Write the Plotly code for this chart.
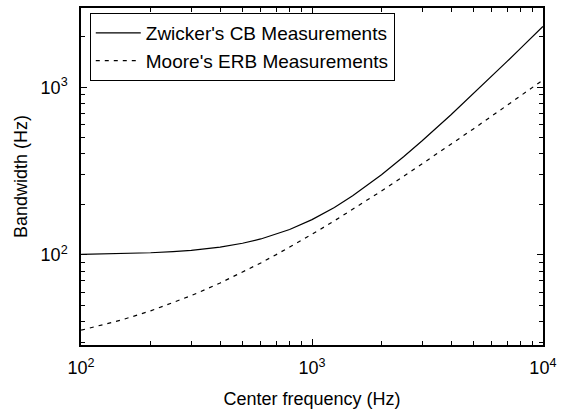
import plotly.graph_objects as go

freq_hz = [100, 125, 150, 200, 250, 300, 400, 500, 600, 700, 800, 1000, 1250, 1500,
           2000, 2500, 3000, 4000, 5000, 6000, 7000, 8000, 10000]
zwicker_cb = [100.7, 101.1, 101.6, 102.9, 104.5, 106.4, 111.2, 117.3, 124.4, 132.6, 141.6,
              162.2, 191.9, 225.2, 300.8, 386.0, 479.2, 685.5, 914.0, 1161.7, 1426.0, 1705.8, 2306.0]
moore_erb = [35.5, 38.2, 40.9, 46.3, 51.7, 57.1, 67.9, 78.7, 89.5, 100.3, 111.1,
             132.6, 159.6, 186.6, 240.6, 294.5, 348.5, 456.5, 564.4, 672.3, 780.3, 888.2, 1104.0]
series_names = ["Zwicker's CB Measurements", "Moore's ERB Measurements"]

x_tick_vals = [100, 1000, 10000]
x_tick_text = ["10<sup>2</sup>", "10<sup>3</sup>", "10<sup>4</sup>"]
y_tick_vals = [100, 1000]
y_tick_text = ["10<sup>2</sup>", "10<sup>3</sup>"]

FONT = "Liberation Sans, Arial, sans-serif"
FS = 18

minor_x = [m * 10 ** e for e in (2, 3) for m in range(2, 10)]
minor_y = [m * 10 ** e for e in (1, 2, 3) for m in range(2, 10)]

fig = go.Figure()
fig.add_trace(go.Scatter(x=freq_hz, y=zwicker_cb, mode="lines", name=series_names[0],
                         legendgroup="a", line=dict(color="black", width=1.2)))
fig.add_trace(go.Scatter(x=freq_hz, y=moore_erb, mode="lines", name=series_names[1],
                         legendgroup="b", line=dict(color="black", width=1.2, dash="4px,5px")))

def axis_common(vals, text, minor_vals):
    return dict(
        type="log", showgrid=False, zeroline=False, showline=True, linecolor="black", linewidth=1.5,
        mirror="allticks", ticks="inside", ticklen=6, tickwidth=1, tickcolor="black",
        tickmode="array", tickvals=vals, ticktext=text, ticklabeloverflow="allow",
        tickfont=dict(family=FONT, size=FS, color="black"),
        minor=dict(ticks="inside", ticklen=4, tickwidth=1, tickcolor="black",
                   tickmode="array", tickvals=minor_vals, showgrid=False),
    )

fig.update_xaxes(**axis_common(x_tick_vals, x_tick_text, minor_x), range=[1.9995, 4.0005], ticklabelstandoff=6,
                 title=dict(text="Center frequency (Hz)", font=dict(family=FONT, size=FS, color="black"), standoff=15))
fig.update_yaxes(**axis_common(y_tick_vals, y_tick_text, minor_y), range=[1.462, 3.473], ticklabelstandoff=8,
                 title=dict(text="Bandwidth (Hz)", font=dict(family=FONT, size=FS, color="black"), standoff=8))

fig.update_layout(
    width=562, height=414,
    margin=dict(l=81, r=13, t=6, b=69),
    paper_bgcolor="white", plot_bgcolor="white",
    font=dict(family=FONT, size=FS, color="black"),
    legend=dict(x=0.019, y=0.985, xanchor="left", yanchor="top",
                bordercolor="black", borderwidth=1, bgcolor="white",
                font=dict(family=FONT, size=19, color="black"),
                tracegroupgap=0, itemwidth=45),
    showlegend=True,
)

fig.write_html("out.html")
